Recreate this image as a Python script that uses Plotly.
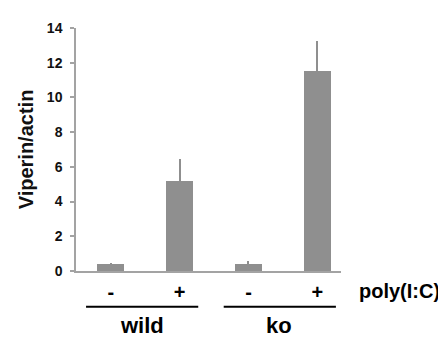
import plotly.graph_objects as go

# Data
conditions = ["-", "+", "-", "+"]
groups = ["wild", "ko"]
values = [0.38, 5.2, 0.38, 11.55]
errors = [0.08, 1.25, 0.17, 1.72]
y_ticks = [0, 2, 4, 6, 8, 10, 12, 14]
treatment_label = "poly(I:C)"
y_title = "Viperin/actin"

positions = list(range(len(values)))
BAR = "#8f8f8f"
AXIS = "#a3a3a3"
FONT = "Liberation Sans, Arial, Helvetica, sans-serif"

fig = go.Figure()
fig.add_trace(go.Bar(
    x=positions, y=values, width=0.39,
    marker=dict(color=BAR, line=dict(width=0)),
    error_y=dict(type="data", array=errors, arrayminus=[0] * len(errors),
                 symmetric=False, width=0, thickness=2, color=BAR),
    showlegend=False,
))

# Group underlines and labels
for gi, g in enumerate(groups):
    first, last = positions[2 * gi], positions[2 * gi + 1]
    fig.add_shape(type="line", xref="x", yref="paper",
                  x0=first - 0.36, x1=last + 0.27, y0=-0.147, y1=-0.147,
                  line=dict(color="black", width=2))
    fig.add_annotation(x=(first + last) / 2 - 0.05, xref="x", y=-0.225, yref="paper",
                       text="<b>%s</b>" % g, showarrow=False,
                       font=dict(size=22, color="black", family=FONT),
                       xanchor="center", yanchor="middle")

fig.add_annotation(x=1.061, xref="paper", y=-0.082, yref="paper",
                   text="<b>%s</b>" % treatment_label, showarrow=False,
                   font=dict(size=20, color="black", family=FONT),
                   xanchor="left", yanchor="middle")

fig.update_layout(
    width=438, height=330,
    margin=dict(l=68, r=105, t=13, b=67),
    paper_bgcolor="white", plot_bgcolor="white",
    font=dict(family=FONT, color="#111"),
    bargap=0,
)
fig.update_xaxes(
    range=[-0.506, 3.344], tickvals=positions,
    ticktext=["<b>%s</b>" % c for c in conditions],
    tickfont=dict(size=20, color="black", family=FONT),
    showline=True, linecolor=AXIS, linewidth=1.5,
    ticks="", showgrid=False, zeroline=False,
    ticklabelstandoff=2,
)
fig.update_yaxes(
    range=[0, 14], tickvals=y_ticks,
    ticktext=["<b>%d</b>" % t for t in y_ticks],
    tickfont=dict(size=14, color="#111", family=FONT),
    showline=True, linecolor=AXIS, linewidth=1.5,
    ticks="outside", ticklen=4, tickcolor=AXIS, tickwidth=1.5,
    ticklabelstandoff=5,
    showgrid=False, zeroline=False,
    title=dict(text="<b>%s</b>" % y_title, font=dict(size=20, color="#111", family=FONT),
               standoff=8),
)

fig.write_html("out.html")
